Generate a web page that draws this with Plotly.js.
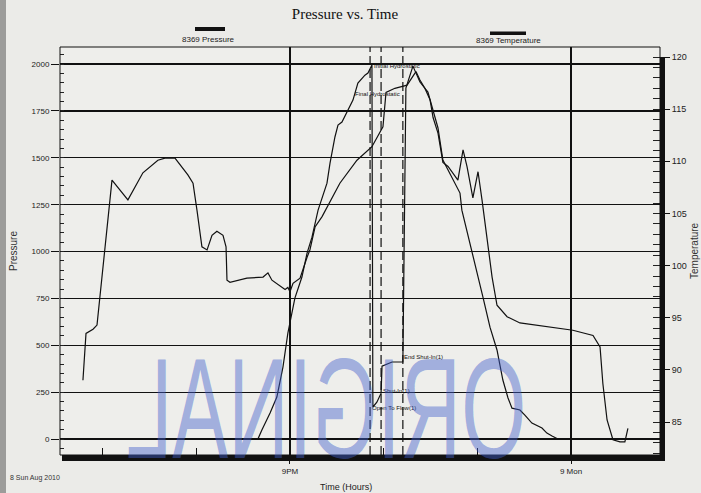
<!DOCTYPE html>
<html>
<head>
<meta charset="utf-8">
<script src="https://cdn.plot.ly/plotly-3.0.1.min.js"></script>
<style>
  html, body { margin: 0; padding: 0; background: #ebebe8; }
  #wrap { position: relative; width: 701px; height: 493px; overflow: hidden; }
  #chart { width: 701px; height: 493px; }
  #stamp {
    position: absolute; left: 326px; top: 409px;
    transform: translate(-50%, -50%) scale(-0.59, 1);
    font-family: "Liberation Sans", Arial, sans-serif; font-size: 142px; line-height: 0.72;
    color: rgba(65, 95, 205, 0.45); white-space: nowrap; pointer-events: none;
  }
</style>
</head>
<body>
<div id="wrap">
  <div id="chart"></div>
  <div id="stamp">ORIGINAL</div>
</div>
<script>
// ---- Data (hours since 00:00 Sun 8 Aug 2010) ----
const seriesNames = ["8369 Pressure", "8369 Temperature"];

const pressureHours = [12.16, 19.63, 19.80, 20.15, 20.44, 20.70, 20.91, 21.09, 21.21, 21.51, 21.73, 21.94,
  22.20, 22.58, 22.71, 22.92, 23.05, 23.22, 23.43, 23.69, 23.90, 24.07, 24.20, 24.33, 24.50,
  24.54, 24.71, 24.89, 24.93, 25.36, 25.82, 25.95, 26.12, 26.25, 26.42, 26.55, 26.89, 27.11, 27.32,
  27.53, 27.96, 28.26, 28.34, 28.69, 28.98, 29.24, 29.54, 29.84, 30.09, 30.31, 30.48, 30.82, 31.03,
  31.33, 31.76, 31.97, 32.19, 32.44];
const pressureValues = [0, 0, 48, 139, 224, 384, 565, 688, 752, 864, 992, 1077,
  1221, 1365, 1472, 1611, 1675, 1691, 1744, 1808, 1899, 1925, 1941, 1952, 1995,
  171, 197, 245, 389, 411, 411, 1872, 1936, 1989, 1941, 1904, 1851, 1755, 1659,
  1488, 1381, 1312, 1221, 1045, 885, 757, 597, 475, 315, 219, 165, 155, 128,
  85, 59, 32, 16, 0];

const temperatureHours = [12.16, 12.29, 12.59, 12.76, 13.40, 14.08, 14.72, 15.36, 15.66, 16.09, 16.64, 16.86,
  17.03, 17.24, 17.46, 17.67, 17.88, 18.14, 18.27, 18.31, 18.44, 19.16, 19.85, 20.06, 20.23, 20.36,
  20.57, 20.79, 20.91, 21.00, 21.13, 21.43, 21.73, 21.85, 22.07, 22.37, 23.13, 23.86, 24.50, 24.97,
  25.10, 25.48, 26.00, 26.38, 26.55, 26.76, 26.98, 27.11, 27.32, 27.53, 27.75, 28.05, 28.17, 28.39,
  28.56, 28.81, 29.03, 29.20, 29.41, 29.63, 29.84, 30.27, 30.82, 32.10, 33.08, 33.94, 34.24, 34.36,
  34.54, 34.79, 35.09, 35.30, 35.43];
const temperatureValues = [89.0, 93.5, 93.9, 94.3, 108.2, 106.3, 108.9, 110.1, 110.3, 110.3, 108.7, 107.9,
  105.3, 101.8, 101.5, 102.9, 103.3, 102.9, 101.8, 98.6, 98.4, 98.8, 98.9, 99.3, 98.6, 98.4,
  98.1, 97.7, 97.9, 97.5, 98.3, 98.8, 100.8, 101.5, 103.7, 104.7, 107.9, 110.1, 111.4, 113.3,
  116.6, 117.0, 117.3, 118.6, 117.8, 117.0, 115.9, 114.2, 112.7, 109.9, 109.5, 108.5, 108.2, 111.1,
  109.5, 106.5, 109.0, 106.3, 102.5, 98.9, 96.2, 95.1, 94.5, 94.1, 93.8, 93.3, 92.2, 88.7,
  85.2, 83.3, 83.1, 83.1, 84.4];

// test events (vertical markers)
const eventHours = [24.42, 24.89, 25.82];

// event labels on the pressure curve
const labelTexts = ["Initial Hydrostatic", "Final Hydrostatic", "End Shut-In(1)", "Shut-In(1)", "Open To Flow(1)"];
const labelHours = [24.52, 25.79, 25.80, 24.88, 24.42];
const labelPressures = [1990, 1840, 437, 256, 165];
const labelAnchors = ["left", "right", "left", "left", "left"];

// axis ticks
const xTickVals = [21, 33];
const xTickText = ["9PM", "9 Mon"];
const pressureTicks = [0, 250, 500, 750, 1000, 1250, 1500, 1750, 2000];
const temperatureTicks = [85, 90, 95, 100, 105, 110, 115, 120];
const dateLabel = "8 Sun Aug 2010";

// ---- Layout helpers ----
const tickFont = { family: "Liberation Sans Narrow, Arial Narrow, Liberation Sans, Arial", size: 8, color: "#222" };
const pw = 600, ph = 408; // plot size in px
const px = v => v / pw, py = v => v / ph;

const traces = [
  { x: pressureHours, y: pressureValues, name: seriesNames[0], type: "scatter", mode: "lines",
    line: { color: "#111", width: 1.2 }, yaxis: "y", hoverinfo: "skip" },
  { x: temperatureHours, y: temperatureValues, name: seriesNames[1], type: "scatter", mode: "lines",
    line: { color: "#111", width: 1.2 }, yaxis: "y2", hoverinfo: "skip" }
];

const shapes = [];
eventHours.forEach(h => shapes.push({ type: "line", xref: "x", yref: "paper", x0: h, x1: h, y0: 0, y1: 1,
  line: { color: "#111", width: 1.2, dash: "9px,4px" } }));
// frame + drop shadow
shapes.push({ type: "rect", xref: "paper", yref: "paper", x0: 0, x1: 1, y0: 0, y1: 1, line: { color: "#111", width: 1 } });
shapes.push({ type: "rect", xref: "paper", yref: "paper", x0: px(2), x1: 1 + px(5), y0: -py(6), y1: 0,
  fillcolor: "#111", line: { width: 0 } });
shapes.push({ type: "rect", xref: "paper", yref: "paper", x0: 1, x1: 1 + px(5), y0: -py(6), y1: 1 - py(10),
  fillcolor: "#111", line: { width: 0 } });
// legend swatches
shapes.push({ type: "rect", xref: "paper", yref: "paper", x0: px(135), x1: px(165), y0: 1 + py(16), y1: 1 + py(20),
  fillcolor: "#111", line: { width: 0 } });
shapes.push({ type: "rect", xref: "paper", yref: "paper", x0: px(430), x1: px(466), y0: 1 + py(12), y1: 1 + py(15.5),
  fillcolor: "#111", line: { width: 0 } });
// scanned page edge
shapes.push({ type: "rect", xref: "paper", yref: "paper", x0: -px(60), x1: -px(54), y0: -py(38), y1: 1 + py(47),
  fillcolor: "#9c9c9a", line: { width: 0 } });

const annotations = labelTexts.map((t, i) => ({
  text: t, x: labelHours[i], y: labelPressures[i], xref: "x", yref: "y", xanchor: labelAnchors[i], yanchor: "middle",
  showarrow: false, font: { family: "Liberation Sans Narrow, Arial Narrow, Liberation Sans", size: 6, color: "#111" }
}));
annotations.push({ text: seriesNames[0], xref: "paper", yref: "paper", x: px(148), y: 1 + py(1), xanchor: "center", yanchor: "bottom",
  showarrow: false, font: { family: tickFont.family, size: 8, color: "#222" } });
annotations.push({ text: seriesNames[1], xref: "paper", yref: "paper", x: px(448), y: 1 + py(0.5), xanchor: "center", yanchor: "bottom",
  showarrow: false, font: { family: tickFont.family, size: 8, color: "#222" } });
annotations.push({ text: "Pressure", xref: "paper", yref: "paper", x: -px(47), y: 0.5, textangle: -90, xanchor: "center", yanchor: "middle",
  showarrow: false, font: { family: "Liberation Sans, Arial", size: 10, color: "#333" } });
annotations.push({ text: "Temperature", xref: "paper", yref: "paper", x: 1 + px(34), y: 0.5, textangle: -90, xanchor: "center", yanchor: "middle",
  showarrow: false, font: { family: "Liberation Sans, Arial", size: 10, color: "#333" } });
annotations.push({ text: "Time (Hours)", xref: "paper", yref: "paper", x: px(286), y: -py(32), xanchor: "center", yanchor: "middle",
  showarrow: false, font: { family: tickFont.family, size: 9, color: "#222" } });
annotations.push({ text: dateLabel, xref: "paper", yref: "paper", x: -px(52), y: -py(23), xanchor: "left", yanchor: "middle",
  showarrow: false, font: { family: tickFont.family, size: 7, color: "#333" } });

const layout = {
  width: 701, height: 493,
  margin: { l: 60, r: 41, t: 47, b: 38 },
  paper_bgcolor: "#ebebe8", plot_bgcolor: "#eeeeeb",
  showlegend: false,
  title: { text: "Pressure vs. Time", x: 0.475, xref: "paper", xanchor: "center", y: 1 - 14 / 493, yref: "container", yanchor: "middle",
    font: { family: "Liberation Serif, Times New Roman, serif", size: 15, color: "#111" } },
  xaxis: {
    range: [11.18, 36.8], tickmode: "array", tickvals: xTickVals, ticktext: xTickText,
    ticks: "outside", ticklen: 8, tickcolor: "#111", tickwidth: 1, tickfont: tickFont,
    showgrid: true, gridcolor: "#111", gridwidth: 1.2, zeroline: false, showline: false,
    minor: { tickmode: "linear", tick0: 1, dtick: 4, ticks: "inside", ticklen: 7, tickcolor: "#111", showgrid: false }
  },
  yaxis: {
    range: [-85, 2091], tickmode: "array", tickvals: pressureTicks,
    ticks: "outside", ticklen: 8, tickcolor: "#111", tickwidth: 1, tickfont: tickFont,
    showgrid: true, gridcolor: "#111", gridwidth: 1.3, zeroline: false, showline: false,
    minor: { tickmode: "linear", tick0: 0, dtick: 50, ticks: "inside", ticklen: 4, tickcolor: "#222", showgrid: false }
  },
  yaxis2: {
    overlaying: "y", side: "right", range: [81.84, 120.96], tickmode: "array", tickvals: temperatureTicks,
    ticks: "outside", ticklen: 9, tickcolor: "#111", tickwidth: 1, tickfont: { ...tickFont, size: 9 },
    showgrid: false, zeroline: false, showline: false,
    minor: { tickmode: "linear", tick0: 80, dtick: 1, ticks: "inside", ticklen: 7, tickcolor: "#222", showgrid: false }
  },
  shapes: shapes,
  annotations: annotations
};

Plotly.newPlot("chart", traces, layout, { displayModeBar: false, staticPlot: true });
</script>
</body>
</html>
